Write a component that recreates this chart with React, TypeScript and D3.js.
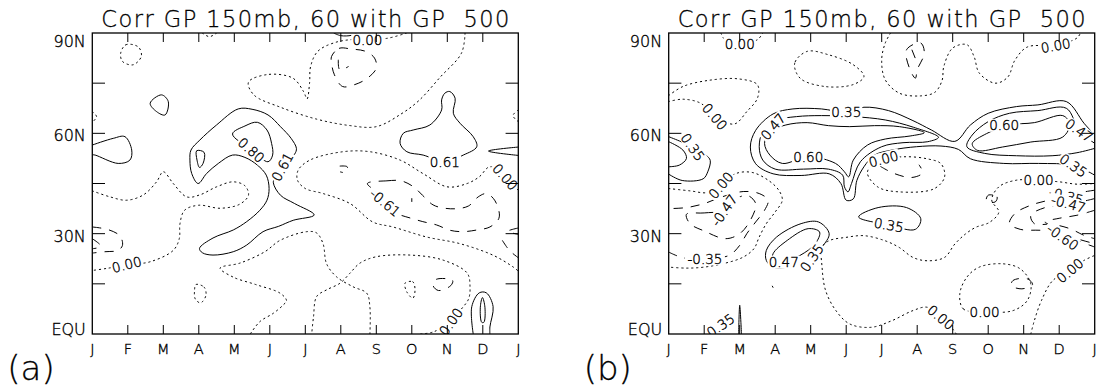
import React from 'react';
import * as d3 from 'd3';

type Pt = [number, number]; // [month index 0..12, latitude]
type Label = [number, number, string, number]; // month, lat, text, angle

const months = ['J', 'F', 'M', 'A', 'M', 'J', 'J', 'A', 'S', 'O', 'N', 'D', 'J'];
const latTicks = [0, 15, 30, 45, 60, 75, 90];
const latLabelValues = [0, 30, 60, 90];
const latLabelText = ['EQU', '30N', '60N', '90N'];
const title = 'Corr GP 150mb, 60 with GP  500';

// ---- panel (a): contour lines ----
const aZero: Pt[][] = [
  [[0.8, 84], [0.95, 86.5], [1.3, 85.8], [1.38, 83], [1.15, 80.5], [0.85, 81.5], [0.8, 84]],
  [[10.5, 90], [10.4, 84], [9.8, 76.8], [9.2, 69.8], [8.7, 65.8], [8.0, 62], [7.2, 62.4], [6.3, 64.3], [5.3, 67.8], [4.55, 71.5], [4.4, 75.3], [4.95, 77.6], [5.65, 76.5], [5.95, 72.5], [6.05, 70.3], [6.12, 75], [6.15, 80], [6.35, 84.5], [6.85, 87.2], [7.5, 88.2], [8.3, 88.4], [8.85, 90]],
  [[3.1, 90], [3.3, 88.9], [3.5, 90]],
  [[0, 66.5], [0.12, 65], [0, 63.3]],
  [[12, 67], [11.85, 65.3], [12, 63.5]],
  [[0, 42.8], [0.5, 41], [0.97, 40], [1.44, 41.6], [1.81, 45.5], [2.0, 48.5], [2.28, 45], [2.66, 41], [3.03, 41.6], [3.5, 44], [3.97, 45.5], [4.3, 44.3], [4.4, 41.5], [4.15, 38.8], [3.6, 37.6], [3.0, 38.5], [2.6, 37], [2.47, 33], [2.45, 28.5], [2.28, 25], [1.63, 21.6], [1.0, 20.7], [0.4, 19.6], [0, 19]],
  [[12, 43], [11.63, 47], [11.2, 50], [10.9, 47], [10.56, 45], [10.0, 44], [9.31, 48], [8.67, 52], [7.82, 54.5], [7.06, 54.5], [6.13, 52], [5.8, 49], [5.78, 46], [6.0, 43.5], [6.5, 42], [7.26, 39], [7.9, 33.5], [8.47, 32], [9.42, 29], [10.36, 27], [11.3, 23.5], [11.86, 20], [12, 18.8]],
  [[7.82, 0], [7.82, 8], [7.73, 12.2], [7.35, 14.1], [6.88, 17.1], [6.6, 21], [6.5, 27], [6.32, 30.2], [6.04, 30.6], [5.29, 28], [4.86, 24.6], [4.16, 21.2], [3.6, 19.7], [3.97, 17], [4.6, 14.8], [5.29, 12.2], [5.47, 10], [5.37, 8.6], [5.1, 6.2], [4.72, 3.7], [4.45, 0]],
  [[9.25, 0], [9.6, 0.6], [10.1, 3.7], [10.4, 7.5], [10.6, 10.5], [10.64, 14.1], [10.56, 18.2], [9.88, 22.1], [8.95, 23.6], [8.0, 23.1], [7.54, 21.2], [7.26, 18.2], [6.98, 15.2], [6.6, 13.2], [6.32, 11.2], [6.23, 5], [6.18, 0]],
  [[2.92, 14.8], [3.15, 14], [3.2, 11.5], [3.05, 9.3], [2.9, 10.5], [2.88, 13], [2.92, 14.8]],
  [[8.81, 15.2], [9.03, 15.6], [9.09, 13.1], [9.03, 10.7], [8.86, 12.6], [8.81, 15.2]],
];
const aPos61: Pt[][] = [
  [[1.63, 69], [1.95, 71.5], [2.14, 69.5], [2.05, 65.5], [1.81, 66.5], [1.63, 69]],
  [[0, 56.5], [0.59, 58.5], [0.92, 59], [1.11, 55], [1.06, 52], [0.73, 51], [0.08, 53.5], [0, 53.6]],
  [[12, 55.9], [11.16, 54.7], [12, 53.4]],
  [[2.98, 45], [2.8, 48], [2.75, 52], [2.78, 55], [3.03, 58], [3.5, 62.5], [4.11, 67.3], [4.5, 67.2], [4.95, 65.5], [5.3, 62], [5.6, 58.5], [5.75, 55.5], [5.7, 53.8], [5.5, 52], [5.3, 49.5], [5.15, 47], [5.1, 45.2], [5.3, 41.5], [5.7, 39], [6.25, 35.6], [5.66, 34], [5.25, 32.2], [4.81, 30.6], [4.35, 26.6], [3.97, 24.6], [3.4, 23.6], [3.1, 24.3], [3.02, 25.6], [3.4, 28.7], [3.97, 31.1], [4.35, 33.6], [4.72, 37], [4.92, 40], [4.98, 43.5], [4.9, 47.5], [4.65, 50.5], [4.3, 52.8], [3.95, 53.5], [3.55, 51], [3.22, 48], [2.98, 45]],
  [[8.76, 60], [8.67, 57], [8.86, 54.5], [9.32, 53.5], [9.93, 51.5], [10.45, 53.5], [10.83, 56], [10.73, 59], [10.36, 63], [10.17, 66], [10.22, 70.5], [10.07, 72.5], [9.93, 72], [9.84, 70], [9.84, 67], [9.51, 62.5], [9.04, 61], [8.76, 60]],
  [[10.73, 0], [10.69, 8.2], [10.9, 12.3], [11.1, 12.3], [11.29, 8.2], [11.2, 2.1], [11.2, 0]],
  [[6.8, 90], [7.0, 89.2], [7.3, 89.3], [7.45, 90]],
];
const aPos80: Pt[][] = [
  [[3.95, 59.8], [4.3, 62.2], [4.65, 63.3], [4.92, 61], [5.05, 57], [5.08, 53.5], [4.95, 51.5], [4.5, 55], [3.95, 59.8]],
  [[2.94, 54.8], [3.15, 54.3], [3.12, 51], [3.02, 49.8], [2.95, 52], [2.94, 54.8]],
  [[10.99, 10.9], [11.06, 8], [11.03, 3.5], [10.97, 3.5], [10.93, 8], [10.99, 10.9]],
];
const aNeg61: Pt[][] = [
  [[6.74, 83], [6.95, 85.4], [7.3, 85.2], [7.7, 84.5], [7.95, 82.5], [8.0, 79.5], [7.75, 76.5], [7.4, 74.6], [7.05, 74], [6.82, 77.5], [6.74, 81], [6.74, 83]],
  [[7.75, 45], [8.3, 45.8], [8.7, 45.8], [9.05, 44], [9.3, 41.5], [9.6, 38.6], [9.93, 37.6], [10.3, 37.5], [10.6, 38.3], [10.87, 41], [11.1, 42], [11.3, 40.5], [11.45, 37], [11.45, 34.5], [11.2, 32], [10.83, 31.1], [10.44, 30.6], [10.08, 31], [9.7, 32.6], [9.31, 33.6], [8.95, 34.7], [8.6, 36], [8.3, 39], [8.0, 42.5], [7.75, 45]],
  [[6.97, 50.2], [7.18, 50], [7.15, 48.3], [6.98, 48.5]],
  [[0, 32], [0.45, 31.2], [0.78, 29.3], [0.85, 26.5], [0.72, 25], [0.35, 24.6], [0, 24.2]],
  [[12, 31.7], [11.7, 30.7], [12, 29.8]],
  [[11.55, 28], [11.75, 25], [12, 22.8]],
  [[9.68, 16.3], [10.15, 16], [10.1, 14.5], [9.75, 13], [9.6, 14.5], [9.68, 16.3]],
];
const aNeg80: Pt[][] = [
  [[6.93, 82], [6.97, 79], [7.22, 80]],
  [[0, 28.5], [0.25, 26.2], [0, 25.5]],
  [[9.0, 40.6], [9.0, 39.5]],
];
const aLabels: Label[] = [
  [0.97, 20.8, '0.00', -14], [4.48, 55, '0.80', 42], [5.35, 50, '0.61', -62],
  [9.93, 51.5, '0.61', 0], [8.25, 39.3, '-0.61', 40], [7.75, 88, '0.00', 0],
  [11.63, 47, '0.00', 48], [10.1, 3.7, '0.00', -55],
];

// ---- panel (b) ----
const bZero: Pt[][] = [
  [[1.47, 90], [1.6, 87.8], [2.0, 86.8], [2.5, 88], [2.65, 90]],
  [[0, 71.3], [0.4, 74], [1.1, 75.8], [1.95, 76.3], [2.5, 74.5], [2.5, 70.5], [2.2, 66.5], [1.85, 62.8], [1.3, 65], [0.9, 69], [0.4, 70.2], [0, 69.5]],
  [[3.9, 84.5], [3.55, 81], [3.7, 76.5], [4.4, 74], [5.2, 74.6], [5.5, 77], [5.2, 80.5], [4.5, 83.5], [3.9, 84.5]],
  [[6.25, 90], [6.1, 87], [6.0, 82], [6.1, 76], [6.5, 72], [7.1, 71.2], [7.5, 72.3], [7.7, 75.8], [7.75, 80], [8.0, 85.5], [8.4, 86.5], [8.6, 83], [8.75, 78], [9.2, 75], [9.55, 76.8], [9.75, 81.8], [10.1, 85.8], [10.9, 86.3], [11.5, 88.5], [11.6, 90]],
  [[5.6, 47.9], [5.7, 50.5], [6.0, 52.2], [6.68, 53], [7.27, 52.4], [7.67, 50.9], [7.77, 46.9], [7.47, 43.4], [6.49, 42.5], [5.9, 43.9], [5.6, 47.9]],
  [[0, 43.5], [0.6, 42.8], [1.1, 42.3], [1.47, 44.5], [1.9, 48], [2.35, 48.3], [2.8, 46], [3.1, 43], [3.2, 40], [3.0, 36.5], [2.75, 33], [2.55, 29], [2.4, 25.5], [2.1, 23], [1.6, 21.2], [1.0, 20], [0.5, 19.7], [0, 20]],
  [[8.1, 0], [7.96, 2], [7.67, 5], [7.28, 8], [6.88, 7], [6.29, 4], [5.7, 2], [5.1, 3], [4.71, 7], [4.42, 13], [4.32, 20], [4.32, 26], [4.52, 27.9], [5.0, 28.9], [5.5, 29.4], [6.09, 27.9], [6.49, 25.9], [6.88, 22.9], [7.28, 21.9], [7.77, 22.9], [8.06, 26.9], [8.36, 29.9], [8.65, 31.9], [9.04, 33.4], [9.3, 36.5], [9.1, 40], [9.3, 44], [9.8, 46], [10.42, 45.9], [11.0, 45.5], [11.5, 44.8], [12, 45]],
  [[10.2, 0], [10.3, 4], [10.5, 10], [10.82, 16], [11.3, 19], [11.7, 22], [12, 23.5]],
  [[8.9, 6.6], [8.3, 7.5], [8.2, 12], [8.4, 17], [8.75, 20], [9.4, 21], [9.9, 19.5], [10.2, 15], [10.1, 10], [9.7, 7], [8.9, 6.6]],
  [[2.92, 14.3], [2.97, 13.3]],
];
const bPos35: Pt[][] = [
  [[12, 59.5], [11.7, 63], [11.2, 69.5], [10.4, 68.5], [9.8, 68], [9.0, 66], [8.5, 62.5], [8.06, 57.6], [7.4, 61], [6.88, 63.8], [6.19, 66.8], [5.5, 67.8], [5.0, 66.3], [4.3, 67.3], [3.5, 67.3], [2.94, 65.8], [2.45, 60.9], [2.3, 55.9], [2.45, 50.9], [2.94, 47.9], [3.73, 47.4], [4.52, 47.9], [4.85, 45], [5.0, 40], [5.2, 40.4], [5.3, 45.9], [5.5, 50], [5.8, 53.5], [6.29, 55], [6.98, 56], [7.67, 56.2], [8.16, 55.2], [8.5, 52.4], [9.44, 51], [10.42, 51], [11.4, 50.4], [12, 47.5]],
  [[0, 59], [0.35, 57.5], [0.68, 55.9], [1.05, 53.5], [1.17, 51.9], [1.1, 48.5], [0.97, 46.4], [0.38, 45.9], [0, 47.8]],
  [[5.35, 35], [5.9, 37.8], [6.7, 37.8], [7.1, 34.5], [6.95, 31.3], [6.2, 32.6], [5.35, 35]],
  [[2.75, 25], [3.04, 29], [3.73, 33], [4.22, 33.5], [4.52, 30], [4.32, 26], [4.03, 22.5], [3.6, 20.5], [2.94, 20], [2.75, 22], [2.75, 25]],
  [[1.97, 0], [2.0, 8.6], [2.05, 0]],
];
const bPos47: Pt[][] = [
  [[2.55, 56], [2.65, 60.5], [3.0, 63.8], [3.6, 65], [4.3, 65.3], [5.2, 65], [6.1, 64], [6.9, 61.8], [7.6, 58.8], [7.3, 57.5], [6.6, 57.2], [6.0, 56], [5.4, 51.5], [5.15, 45], [5.05, 42.5], [4.95, 44], [4.9, 47.5], [4.5, 49.3], [3.8, 49.3], [3.0, 49.3], [2.65, 52], [2.55, 56]],
  [[12, 57], [11.56, 60.9], [11.2, 67.5], [10.4, 66.8], [9.6, 66], [9.0, 63.5], [8.55, 59.5], [8.4, 56], [8.9, 54], [9.8, 53.3], [10.8, 53.3], [11.5, 54.2], [12, 55.5]],
  [[2.94, 24], [3.34, 28], [3.93, 31.5], [4.25, 30.5], [4.13, 27], [3.7, 23.5], [3.24, 21.5], [2.94, 22], [2.94, 24]],
  [[0, 57.5], [0.4, 55], [0.5, 52.5], [0.3, 50.5], [0, 50]],
];
const bPos60: Pt[][] = [
  [[3.2, 51], [2.85, 53.5], [2.7, 57], [2.85, 60.5], [3.3, 62.5], [3.9, 63.2], [4.5, 62.3], [5.1, 62], [5.8, 62.3], [6.5, 62], [7.2, 60.2], [6.8, 59.2], [6.1, 58.3], [5.6, 56.5], [5.2, 52], [5.07, 47], [4.95, 48.5], [4.7, 51], [3.93, 53], [3.2, 51]],
  [[8.55, 56.9], [8.95, 59.9], [9.6, 62.5], [10.3, 63.2], [11.1, 65.3], [11.3, 62.8], [11.1, 58.9], [10.2, 57.4], [9.4, 55.9], [8.7, 54.9], [8.55, 56.9]],
];
const bNeg35: Pt[][] = [
  [[0, 24.5], [0.4, 22.8], [1.02, 22.5], [1.7, 23.5], [2.0, 26.5], [2.2, 30], [2.45, 33.5], [2.7, 37], [2.8, 40], [2.55, 42], [2.1, 42.6], [1.5, 41], [1.0, 39], [0.5, 37.8], [0, 37.5]],
  [[12, 43], [11.6, 42.3], [11.2, 41.3], [10.7, 40], [10.2, 38.5], [9.75, 36], [9.6, 33], [9.9, 31.3], [10.5, 31], [11.0, 30.5], [11.5, 28.5], [12, 27]],
  [[9.0, 41.5], [9.25, 41], [9.2, 39.5], [8.95, 39.7], [9.0, 41.5]],
  [[9.7, 16], [10.1, 16.5], [10.25, 14.8], [9.95, 13.5], [9.65, 14.5], [9.7, 16]],
  [[6.7, 85], [7.1, 87], [7.2, 84], [7.0, 79], [6.95, 76.5], [6.8, 79], [6.7, 85]],
  [[5.95, 50.2], [6.35, 48], [6.85, 46.8], [7.15, 48.2], [7.05, 50.6]],
];
const bNeg47: Pt[][] = [
  [[0.5, 35.8], [1.0, 36.2], [1.56, 37], [1.9, 40.3], [2.2, 41.5], [2.45, 39], [2.3, 34], [2.0, 30], [1.6, 28.5], [1.0, 30.8], [0.6, 33], [0.5, 35.8]],
  [[12, 40.5], [11.6, 39.5], [11.26, 39], [10.6, 37.8], [10.2, 35.5], [10.3, 33], [10.8, 32.8], [11.3, 31.5], [11.7, 29.5], [12, 28.5]],
  [[6.85, 85], [7.0, 81]],
];
const bNeg60: Pt[][] = [
  [[12, 37], [11.5, 35.5], [11.0, 34.6], [10.6, 33.5], [10.8, 32.3], [11.1, 29], [11.6, 27.5], [12, 26]],
];
const bLabels: Label[] = [
  [2.0, 86.8, '0.00', 0], [1.3, 65, '0.00', 50], [10.9, 86.3, '0.00', -10],
  [6.05, 52.4, '0.00', -15], [1.47, 44.5, '0.00', -50], [7.67, 5, '0.00', 40],
  [8.9, 6.6, '0.00', 0], [11.3, 19, '0.00', -40], [10.42, 45.9, '0.00', 0],
  [5.0, 66.3, '0.35', 0], [3.93, 53, '0.60', 0], [2.94, 62, '0.47', -50],
  [9.45, 62.4, '0.60', 0], [11.56, 60.9, '0.47', 35], [11.4, 50.4, '0.35', 35],
  [0.68, 55.9, '0.35', 55], [6.2, 32.6, '0.35', 10], [3.24, 21.5, '0.47', 0],
  [4.03, 22.8, '0.35', -55], [1.46, 2.6, '0.35', -35],
  [1.02, 22.5, '-0.35', 0], [1.56, 37, '-0.47', -55],
  [11.2, 41.3, '-0.35', 15], [11.26, 39, '-0.47', 15], [11.1, 29, '-0.60', 35],
];

const W = 426;
const TOP = 33;
const BOTTOM = 334;
const FONT = "'DejaVu Sans', sans-serif";
const inkText = { fill: '#000', stroke: '#000', strokeWidth: 0.35 };

function styleFor(level: number) {
  if (level === 0) return { dash: '1.3 3.7', cap: 'round' as const };
  if (level < 0) return { dash: '9 8', cap: 'butt' as const };
  return { dash: undefined, cap: 'butt' as const };
}

interface PanelProps {
  x0: number;
  tag: string;
  id: string;
  groups: [number, Pt[][]][];
  labels: Label[];
}

function Panel({ x0, tag, id, groups, labels }: PanelProps) {
  const x = d3.scaleLinear().domain([0, 12]).range([x0, x0 + W]);
  const y = d3.scaleLinear().domain([0, 90]).range([BOTTOM, TOP]);

  const open = d3.line<Pt>().x(d => x(d[0])).y(d => y(d[1])).curve(d3.curveCatmullRom.alpha(0.5));
  const closed = d3.line<Pt>().x(d => x(d[0])).y(d => y(d[1])).curve(d3.curveCatmullRomClosed.alpha(0.5));

  const pathFor = (pts: Pt[]) => {
    const first = pts[0];
    const last = pts[pts.length - 1];
    if (pts.length > 3 && first[0] === last[0] && first[1] === last[1]) {
      return closed(pts.slice(0, -1)) || '';
    }
    return open(pts) || '';
  };

  return (
    <g>
      <defs>
        <clipPath id={id}>
          <rect x={x0} y={TOP} width={W} height={BOTTOM - TOP} />
        </clipPath>
      </defs>

      <text x={x0 + W / 2} y={27} textAnchor="middle" fontFamily={FONT} fontWeight={200} fontSize={22.5}
        textLength={408} lengthAdjust="spacing" style={{ whiteSpace: 'pre' }} {...inkText} strokeWidth={0.3}>{title}</text>

      <g clipPath={`url(#${id})`}>
        {groups.map(([level, lines], gi) => {
          const s = styleFor(level);
          return lines.map((pts, i) => (
            <path key={`${gi}-${i}`} d={pathFor(pts)} fill="none" stroke="#000" strokeWidth={1}
              strokeDasharray={s.dash} strokeLinecap={s.cap} />
          ));
        })}
        {labels.map(([m, lat, text, angle], i) => {
          const w = text.length * 7.6 + 2;
          return (
            <g key={i} transform={`translate(${x(m)},${y(lat)}) rotate(${angle})`}>
              <rect x={-w / 2} y={-6.5} width={w} height={13} fill="#fff" />
              <text x={0} y={5} textAnchor="middle" fontFamily={FONT} fontWeight={200} fontSize={13.5} {...inkText}>{text}</text>
            </g>
          );
        })}
      </g>

      {/* axis frame and ticks */}
      <rect x={x0} y={TOP} width={W} height={BOTTOM - TOP} fill="none" stroke="#000" strokeWidth={1.3} />
      {months.slice(1, -1).map((_, i) => (
        <g key={`mt${i}`}>
          <line x1={x(i + 1)} x2={x(i + 1)} y1={BOTTOM} y2={BOTTOM - 9} stroke="#000" strokeWidth={1} />
          <line x1={x(i + 1)} x2={x(i + 1)} y1={TOP} y2={TOP + 9} stroke="#000" strokeWidth={1} />
        </g>
      ))}
      {latTicks.slice(1, -1).map(v => (
        <g key={`lt${v}`}>
          <line x1={x0} x2={x0 + 12.7} y1={y(v)} y2={y(v)} stroke="#000" strokeWidth={1} />
          <line x1={x0 + W} x2={x0 + W - 12.7} y1={y(v)} y2={y(v)} stroke="#000" strokeWidth={1} />
        </g>
      ))}
      {months.map((mName, i) => (
        <text key={`ml${i}`} x={x(i)} y={354} textAnchor="middle" fontFamily={FONT} fontWeight={200} fontSize={14.5} {...inkText}>{mName}</text>
      ))}
      {latLabelValues.map((v, i) => {
        const base = Math.max(Math.min(y(v) + 8, BOTTOM + 1), TOP + 13.5);
        return (
          <text key={`ll${v}`} x={x0 - 6.5} y={base} textAnchor="end" fontFamily={FONT} fontWeight={200} fontSize={16} {...inkText}>{latLabelText[i]}</text>
        );
      })}
      <text x={x0 - 85} y={380} fontFamily={FONT} fontWeight={200} fontSize={34} {...inkText} strokeWidth={0.3}>{tag}</text>
    </g>
  );
}

export default function App() {
  return (
    <svg width={1097} height={387} style={{ position: 'fixed', left: 0, top: 0, background: '#fff' }}>
      <rect width={1097} height={387} fill="#fff" />
      <Panel x0={92.3} tag="(a)" id="clipA" labels={aLabels}
        groups={[[0, aZero], [0.61, aPos61], [0.8, aPos80], [-0.61, aNeg61], [-0.8, aNeg80]]} />
      <Panel x0={668.7} tag="(b)" id="clipB" labels={bLabels}
        groups={[[0, bZero], [0.35, bPos35], [0.47, bPos47], [0.6, bPos60], [-0.35, bNeg35], [-0.47, bNeg47], [-0.6, bNeg60]]} />
    </svg>
  );
}
